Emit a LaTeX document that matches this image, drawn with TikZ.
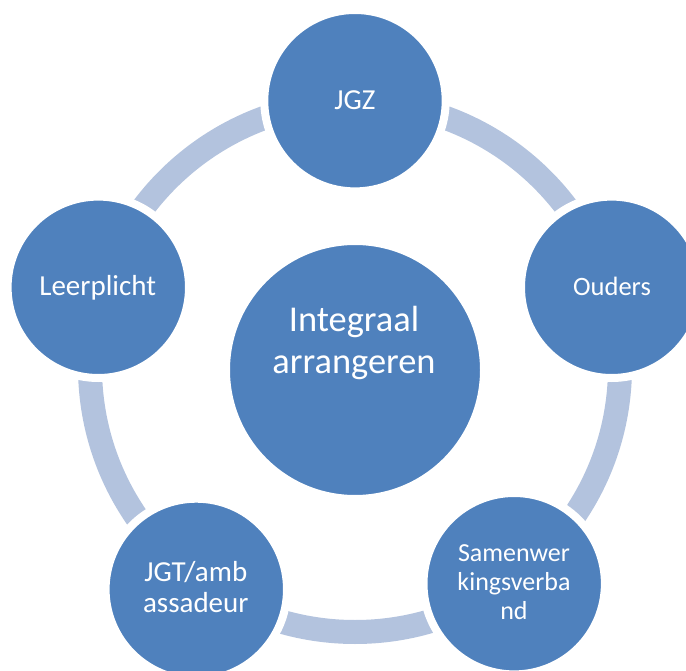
\documentclass[tikz,border=0pt]{standalone}
\usepackage{fontspec}
\setmainfont{Carlito}
\definecolor{nodeblue}{HTML}{4F81BD}
\definecolor{ringblue}{HTML}{B3C3DE}
\newcommand{\lines}[1]{\begin{tabular}[t]{@{}c@{}}#1\end{tabular}}
\begin{document}
\begin{tikzpicture}[x=1pt,y=-1pt,
  bubble/.style={circle, fill=nodeblue, draw=white, line width=8pt, inner sep=0pt, minimum size=181.4pt},
  hubbubble/.style={circle, fill=nodeblue, draw=white, line width=8pt, inner sep=0pt, minimum size=258pt},
  ring/.style={draw=ringblue, line width=24pt},
  lbl/.style={text=white, inner sep=0pt, anchor=base}]
\useasboundingbox (0,0) rectangle (686,671);
\clip (0,0) rectangle (686,671);
\coordinate (ringc) at (355,367);
\draw[ring] (ringc) circle[radius=265pt];
\node[bubble] (jgz) at (355,100.7) {};
\node[bubble] (ouders) at (611.7,287.3) {};
\node[bubble] (samen) at (514.2,583.7) {};
\node[bubble] (jgt) at (196.3,589.4) {};
\node[bubble] (leer) at (98.3,287.3) {};
\node[hubbubble] (hub) at (355,370) {};
\node[lbl, font=\fontsize{29}{31.5}\selectfont] (jgzt) at (355,109.5) {JGZ};
\node[lbl, font=\fontsize{26.5}{29}\selectfont] (oudt) at (612,296) {Ouders};
\node[lbl, font=\fontsize{29}{31.5}\selectfont] (leert) at (97.7,296) {Leerplicht};
\node[lbl, font=\fontsize{29}{31}\selectfont] (jgtt) at (195.8,581.7) {\lines{JGT/amb\\assadeur}};
\node[lbl, font=\fontsize{26}{28.8}\selectfont] (samt) at (514,561.7) {\lines{Samenwer\\kingsverba\\nd}};
\node[lbl, font=\fontsize{36.4}{41.6}\selectfont] (hubt) at (354,331.7) {\lines{Integraal\\arrangeren}};
\end{tikzpicture}
\end{document}
